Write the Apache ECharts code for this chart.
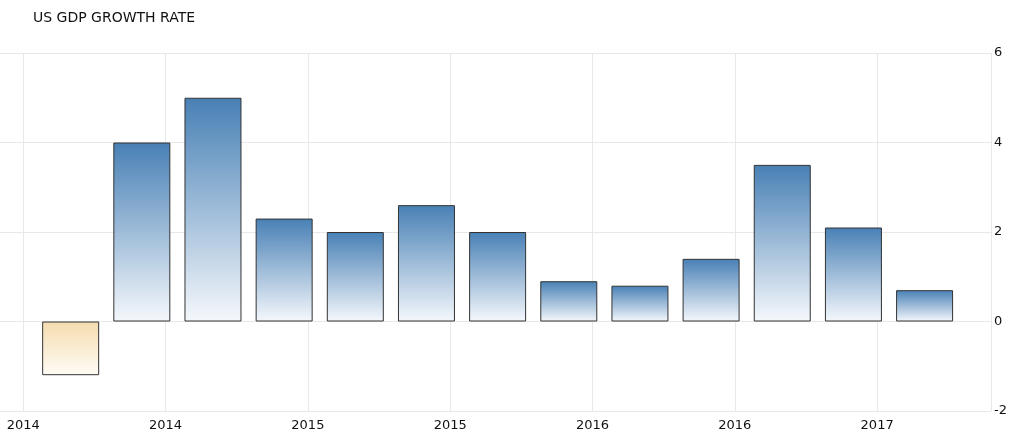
<!DOCTYPE html>
<html><head><meta charset="utf-8">
<script src="https://cdn.jsdelivr.net/npm/echarts@6/dist/echarts.min.js"></script>
<style>html,body{margin:0;padding:0;background:#fff}#c{width:1014px;height:439px}</style>
</head><body><div id="c"></div>
<script>
const quarters = ['2014-03','2014-06','2014-09','2014-12','2015-03','2015-06','2015-09','2015-12','2016-03','2016-06','2016-09','2016-12','2017-03'];
const growth = [-1.2, 4.0, 5.0, 2.3, 2.0, 2.6, 2.0, 0.9, 0.8, 1.4, 3.5, 2.1, 0.7];
const baseYear = 2014;

function monthIndex(s) {
  const [y, m] = s.split('-').map(Number);
  return (y - baseYear) * 12 + (m - 1);
}
function grad(top, bottom) {
  return new echarts.graphic.LinearGradient(0, 0, 0, 1, [
    { offset: 0, color: top }, { offset: 1, color: bottom }
  ]);
}
const data = quarters.map((q, i) => ({
  value: [monthIndex(q), growth[i]],
  itemStyle: {
    color: growth[i] >= 0 ? grad('#4880b5', '#f5f8fc') : grad('#f5dcaf', '#fffcf6'),
    borderColor: '#333',
    borderWidth: 1
  }
}));

const chart = echarts.init(document.getElementById('c'), null, { renderer: 'canvas' });
chart.setOption({
  animation: false,
  backgroundColor: '#fff',
  textStyle: { fontFamily: 'DejaVu Sans' },
  title: {
    text: 'US GDP GROWTH RATE', left: 28, top: 6,
    textStyle: { fontFamily: 'DejaVu Sans', fontSize: 14, fontWeight: 'normal', color: '#111' }
  },
  grid: { left: -119.1, right: 23, top: 53, bottom: 28, containLabel: false, outerBoundsMode: 'none' },
  xAxis: {
    type: 'value', min: -6, max: 40.8, interval: 6,
    axisLine: { show: false }, axisTick: { show: false },
    splitLine: { show: true, lineStyle: { color: '#e8e8e8', width: 1 } },
    axisLabel: {
      margin: 8, color: '#111', fontSize: 13, fontFamily: 'DejaVu Sans',
      showMaxLabel: false,
      formatter: v => String(baseYear + Math.floor(v / 12))
    }
  },
  yAxis: {
    type: 'value', position: 'right', min: -2, max: 6, interval: 2,
    axisLine: { show: false }, axisTick: { show: false },
    splitLine: { show: true, lineStyle: { color: '#e8e8e8', width: 1 } },
    axisLabel: { margin: 3, color: '#111', fontSize: 13, fontFamily: 'DejaVu Sans' }
  },
  series: [{
    type: 'bar', barWidth: 57, data: data
  }]
});
</script></body></html>
